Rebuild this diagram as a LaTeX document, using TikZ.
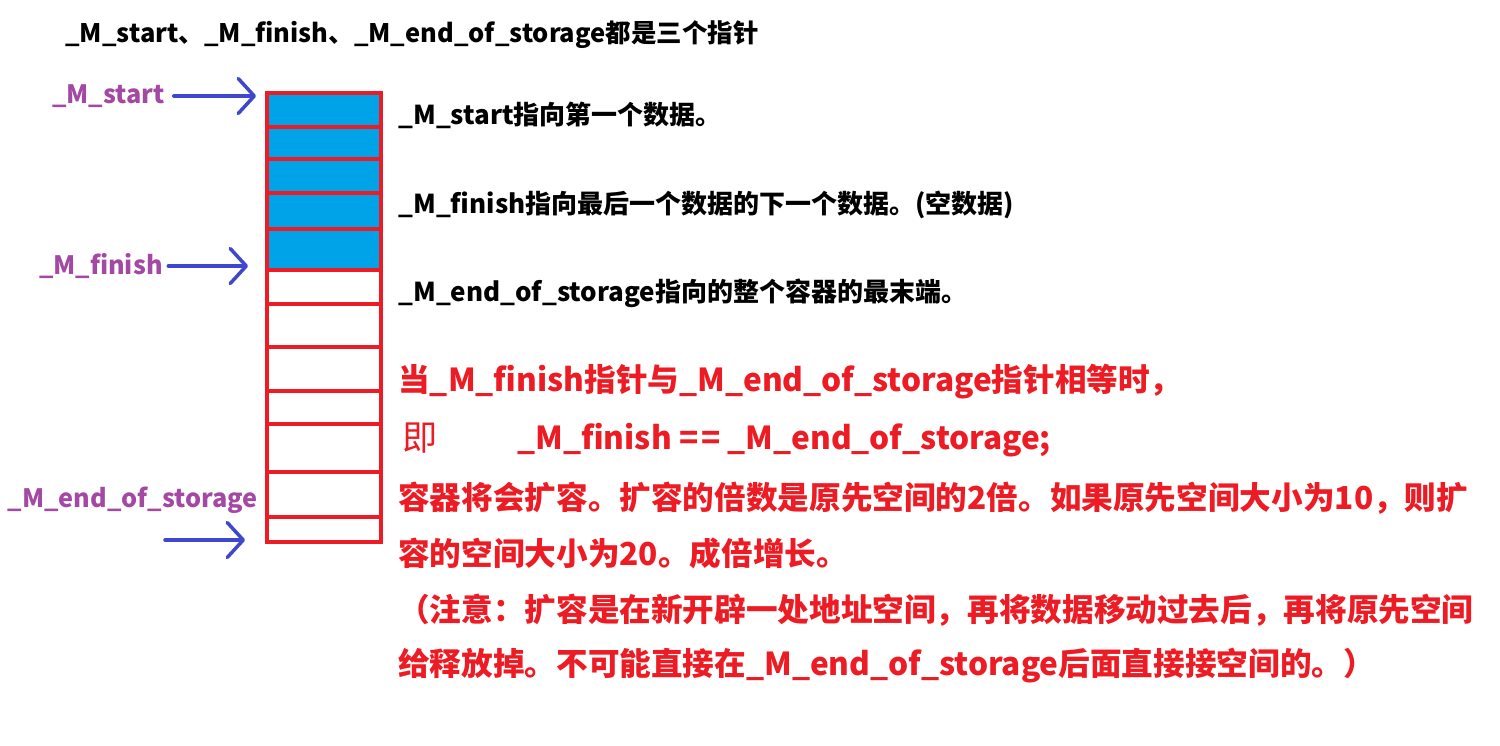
\documentclass[tikz,border=0pt]{standalone}
\usepackage{fontspec}
\setmainfont{Noto Sans CJK SC}
\usetikzlibrary{arrows.meta}
\definecolor{cellred}{HTML}{ED1C24}
\definecolor{cellblue}{HTML}{00A2E8}
\definecolor{ptrblue}{HTML}{3F48CC}
\definecolor{ptrpurple}{HTML}{A349A4}
\tikzset{
  note/.style={anchor=west,inner sep=0pt,font=\bfseries\fontsize{14.8}{18}\selectfont,text=black},
  warn/.style={note,font=\bfseries\fontsize{18}{22}\selectfont,text=cellred},
  ptrname/.style={anchor=east,inner sep=0pt,font=\bfseries\fontsize{14.4}{18}\selectfont,text=ptrpurple},
  ptrarrow/.style={-{Straight Barb[length=0.32cm,width=0.7cm,line cap=round,line join=round]},
                   line width=2pt,draw=ptrblue,line cap=round},
  cellline/.style={draw=cellred,line width=2pt}
}
\begin{document}
\begin{tikzpicture}[x=0.02cm,y=-0.02cm]
  \useasboundingbox (0,0) rectangle (1500,745);
  % storage cells
  \fill[cellblue] (267,93) rectangle (381,270);
  \foreach \yy in {127,159,193,229,270,304,347,391,424,472,517}
    \draw[cellline] (267,\yy) -- (381,\yy);
  \draw[cellline] (267,93) rectangle (381,542);
  % pointers
  \node[note,font=\bfseries\fontsize{14.5}{17}\selectfont] (title) at (65,35) {\_M\_start、\_M\_finish、\_M\_end\_of\_storage都是三个指针};
  \node[ptrname] (pstart) at (165,96) {\_M\_start};
  \node[ptrname] (pfinish) at (163,266) {\_M\_finish};
  \node[ptrname] (pend) at (258,500) {\_M\_end\_of\_storage};
  \coordinate (startin) at (256,96);
  \coordinate (finishin) at (248,266);
  \coordinate (endtail) at (165,540);
  \coordinate (endin) at (245,540);
  \draw[ptrarrow] ([xshift=5pt]pstart.east) -- (startin);
  \draw[ptrarrow] ([xshift=3pt]pfinish.east) -- (finishin);
  \draw[ptrarrow] (endtail) -- (endin);
  % notes
  \node[note] (n1) at (398,115) {\_M\_start指向第一个数据。};
  \node[note] (n2) at (398,205) {\_M\_finish指向最后一个数据的下一个数据。(空数据)};
  \node[note] (n3) at (398,293) {\_M\_end\_of\_storage指向的整个容器的最末端。};
  \node[warn] (w1) at (398,382) {当\_M\_finish指针与\_M\_end\_of\_storage指针相等时，};
  \node[warn,font=\fontsize{20}{24}\selectfont] (w2) at (402,438) {即};
  \node[warn] (w3) at (517,440) {\_M\_finish =\kern1.5pt= \_M\_end\_of\_storage;};
  \node[warn] (w4) at (398,498) {容器将会扩容。扩容的倍数是原先空间的2倍。如果原先空间大小为10，则扩};
  \node[warn] (w5) at (398,553) {容的空间大小为20。成倍增长。};
  \node[warn] (w6) at (398,610) {（注意：扩容是在新开辟一处地址空间，再将数据移动过去后，再将原先空间};
  \node[warn] (w7) at (398,666) {给释放掉。不可能直接在\_M\_end\_of\_storage后面直接接空间的。）};
\end{tikzpicture}
\end{document}
